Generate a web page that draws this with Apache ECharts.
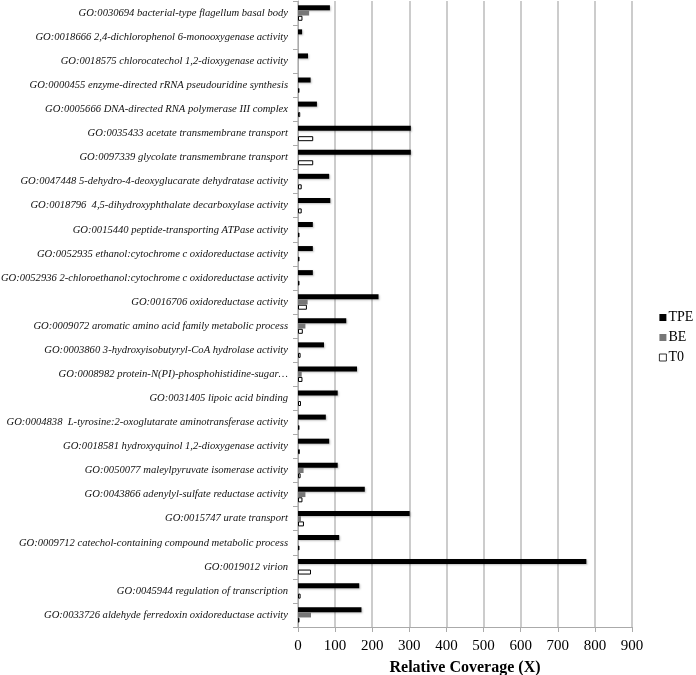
<!DOCTYPE html>
<html><head><meta charset="utf-8">
<script src="https://cdn.jsdelivr.net/npm/echarts@6/dist/echarts.min.js"></script>
<style>html,body{margin:0;padding:0;background:#fff}#c{width:696px;height:675px}</style>
</head><body><div id="c"></div>
<script>
var categories = [
"GO:0030694 bacterial-type flagellum basal body",
"GO:0018666 2,4-dichlorophenol 6-monooxygenase activity",
"GO:0018575 chlorocatechol 1,2-dioxygenase activity",
"GO:0000455 enzyme-directed rRNA pseudouridine synthesis",
"GO:0005666 DNA-directed RNA polymerase III complex",
"GO:0035433 acetate transmembrane transport",
"GO:0097339 glycolate transmembrane transport",
"GO:0047448 5-dehydro-4-deoxyglucarate dehydratase activity",
"GO:0018796  4,5-dihydroxyphthalate decarboxylase activity",
"GO:0015440 peptide-transporting ATPase activity",
"GO:0052935 ethanol:cytochrome c oxidoreductase activity",
"GO:0052936 2-chloroethanol:cytochrome c oxidoreductase activity",
"GO:0016706 oxidoreductase activity",
"GO:0009072 aromatic amino acid family metabolic process",
"GO:0003860 3-hydroxyisobutyryl-CoA hydrolase activity",
"GO:0008982 protein-N(PI)-phosphohistidine-sugar…",
"GO:0031405 lipoic acid binding",
"GO:0004838  L-tyrosine:2-oxoglutarate aminotransferase activity",
"GO:0018581 hydroxyquinol 1,2-dioxygenase activity",
"GO:0050077 maleylpyruvate isomerase activity",
"GO:0043866 adenylyl-sulfate reductase activity",
"GO:0015747 urate transport",
"GO:0009712 catechol-containing compound metabolic process",
"GO:0019012 virion",
"GO:0045944 regulation of transcription",
"GO:0033726 aldehyde ferredoxin oxidoreductase activity"
];
var tpe = [86, 11, 27, 34, 51, 304, 304, 84, 87, 40, 40, 40, 217, 130, 70, 159, 107, 75, 84, 107, 180, 301, 111, 777, 165, 171];
var be  = [30, null, null, null, null, null, null, null, null, null, null, null, 26, 20, null, 10, null, null, null, 15, 20, 8, null, null, null, 35];
var t0  = [12, null, null, 4, 6, 41, 41, 10, 10, 4, 4, 4, 24, 13, 7, 12, 8, 4, 5, 7, 12, 16, 4, 35, 7, 4];
var xTicks = [0, 100, 200, 300, 400, 500, 600, 700, 800, 900];

var chart = echarts.init(document.getElementById('c'), null, {renderer: 'canvas'});
var serif = '"Liberation Serif","Times New Roman",serif';
chart.setOption({
  animation: false,
  backgroundColor: '#fff',
  textStyle: {fontFamily: serif},
  grid: {left: 298, right: 64, top: 1, bottom: 48, containLabel: false, outerBoundsMode: 'none'},
  legend: {
    orient: 'vertical', left: 654, top: 'middle',
    itemWidth: 7, itemHeight: 7, itemGap: 6,
    textStyle: {fontFamily: serif, fontSize: 14, color: '#000', padding: [0,0,0,-3]},
    data: [
      {name: 'TPE', icon: 'rect'},
      {name: 'BE', icon: 'rect'},
      {name: 'T0', icon: 'rect', itemStyle: {borderWidth: 0.8}}
    ]
  },
  xAxis: {
    type: 'value', min: xTicks[0], max: xTicks[xTicks.length-1], interval: 100,
    name: 'Relative Coverage (X)', nameLocation: 'middle', nameGap: 33,
    nameTextStyle: {fontFamily: serif, fontWeight: 'bold', fontSize: 16, color: '#000'},
    axisLine: {show: true, lineStyle: {color: '#aaa', width: 1}},
    axisTick: {show: true, length: 5, lineStyle: {color: '#aaa'}},
    axisLabel: {fontFamily: serif, fontSize: 15, color: '#000', margin: 12},
    splitLine: {show: true, lineStyle: {color: '#bbb', width: 1.5}}
  },
  yAxis: {
    type: 'category', data: categories, inverse: true,
    axisLine: {show: true, lineStyle: {color: '#aaa', width: 1}},
    axisTick: {show: true, length: 5, lineStyle: {color: '#aaa'}},
    axisLabel: {fontFamily: serif, fontStyle: 'italic', fontSize: 10.6, color: '#111', margin: 10}
  },
  series: [
    {name: 'TPE', type: 'bar', data: tpe, barWidth: 5, barGap: '5%', barCategoryGap: '30%',
     itemStyle: {color: '#000', shadowColor: 'rgba(0,0,0,0.25)', shadowBlur: 2, shadowOffsetX: 1, shadowOffsetY: 1}},
    {name: 'BE', type: 'bar', data: be, barWidth: 5, barGap: '5%',
     itemStyle: {color: '#777'}},
    {name: 'T0', type: 'bar', data: t0, barWidth: 5, barGap: '5%',
     itemStyle: {color: '#fff', borderColor: '#000', borderWidth: 1}}
  ]
});
</script></body></html>
